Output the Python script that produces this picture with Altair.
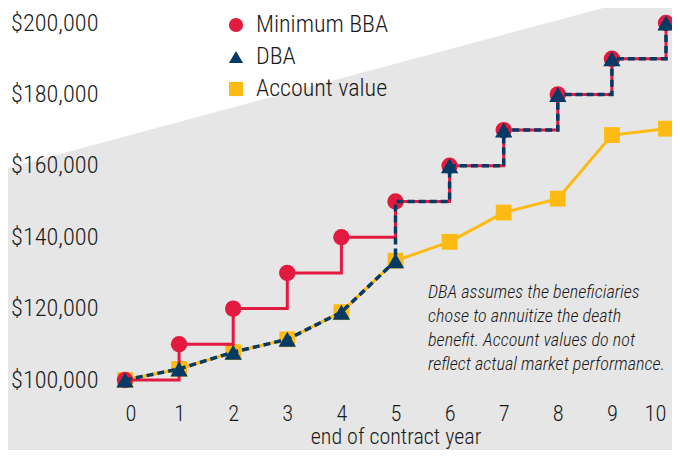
import altair as alt
import pandas as pd

years = [0, 1, 2, 3, 4, 5, 6, 7, 8, 9, 10]
min_bba = [100000, 110000, 120000, 130000, 140000, 150000, 160000, 170000, 180000, 190000, 200000]
account_value = [100000, 103100, 107800, 111400, 119000, 133400, 138700, 146900, 150800, 168600, 170400]
dba = [100000, 103100, 107800, 111400, 119000, 133400, 160000, 170000, 180000, 190000, 200000]
annuitize_year = 5
series_names = ["Minimum BBA", "DBA", "Account value"]
note_lines = ["DBA assumes the beneficiaries", "chose to annuitize the death",
              "benefit. Account values do not", "reflect actual market performance."]

RED = "#e31a3f"
NAVY = "#053a64"
YELLOW = "#fcba12"
BG = "#e6e6e6"
INK = "#1a1a1a"
FONT = "Roboto Condensed, Noto Sans Condensed, Liberation Sans Narrow, Arial Narrow, Liberation Sans"
W = 300

# DBA path: follows account value until annuitization, then the Minimum BBA steps
path_x, path_y = [], []
for i, y in enumerate(years):
    if y <= annuitize_year:
        path_x.append(y); path_y.append(dba[i])
path_x.append(annuitize_year); path_y.append(min_bba[years.index(annuitize_year)])
for i, y in enumerate(years):
    if y > annuitize_year:
        path_x += [y, y]; path_y += [min_bba[i - 1], min_bba[i]]
dba_path = pd.DataFrame({"year": path_x, "value": path_y, "order": range(len(path_x))})

df_bba = pd.DataFrame({"year": years, "value": min_bba, "series": series_names[0]})
df_dba = pd.DataFrame({"year": years, "value": dba, "series": series_names[1]})
df_av = pd.DataFrame({"year": years, "value": account_value, "series": series_names[2]})

xs = alt.Scale(domain=[0, 10], nice=False)
ys = alt.Scale(domain=[100000, 200000], nice=False, zero=False)
X = alt.X("year:Q", scale=xs,
          axis=alt.Axis(values=years, format="d", title="end of contract year", grid=False,
                        domain=False, ticks=False, tickSize=0, labelPadding=22,
                        labelFontSize=22.5, titleFontSize=22, titleFontWeight=W, labelFontWeight=W,
                        titlePadding=2, labelColor=INK, titleColor=INK,
                        labelFont=FONT, titleFont=FONT, zindex=1))
Y = alt.Y("value:Q", scale=ys,
          axis=alt.Axis(values=list(range(100000, 200001, 20000)), format="$,.0f", title=None,
                        grid=False, domain=False, ticks=False, tickSize=0, labelPadding=27,
                        labelFontSize=24.3, labelFontWeight=W, labelColor=INK, labelFont=FONT, zindex=1))

color_scale = alt.Scale(domain=series_names, range=[RED, NAVY, YELLOW])
shape_scale = alt.Scale(domain=series_names, range=["circle", "triangle-up", "square"])
legend = alt.Legend(title=None, orient="none", legendX=99, legendY=-10, padding=0,
                    labelFontSize=24, labelFontWeight=W, labelFont=FONT, labelColor=INK, symbolSize=200,
                    rowPadding=8, labelOffset=8, symbolStrokeWidth=0, symbolOpacity=1)
C = alt.Color("series:N", scale=color_scale, legend=legend)
S = alt.Shape("series:N", scale=shape_scale, legend=legend)

white_tri = alt.Chart(alt.Data(values=[{"a": 1}])).mark_point(
    shape="M -1 -0.2689 L 1 -0.2689 L -1 0.2689 Z", filled=True, color="white",
    opacity=1, size=595 * 595, strokeWidth=0
).encode(x=alt.value(180.5), y=alt.value(65))

av_line = alt.Chart(df_av).mark_line(color=YELLOW, strokeWidth=3).encode(x=X, y=Y)
av_pts = alt.Chart(df_av).mark_point(filled=True, opacity=1, size=250, strokeWidth=0).encode(
    x=X, y=Y, color=C, shape=S)
bba_line = alt.Chart(df_bba).mark_line(color=RED, strokeWidth=3, interpolate="step-after").encode(x=X, y=Y)
bba_pts = alt.Chart(df_bba).mark_point(filled=True, opacity=1, size=270, strokeWidth=0).encode(
    x=X, y=Y, color=C, shape=S)
dba_line = alt.Chart(dba_path).mark_line(color=NAVY, strokeWidth=3.5, strokeDash=[7, 4]).encode(
    x=X, y=Y, order="order:Q")
dba_pts = alt.Chart(df_dba).mark_point(filled=True, opacity=1, size=300, strokeWidth=0).encode(
    x=X, y=Y, color=C, shape=S)

note = alt.Chart(alt.Data(values=[{"t": note_lines}])).mark_text(
    align="left", baseline="alphabetic", fontSize=18.2, fontStyle="italic", fontWeight=W, font=FONT,
    lineHeight=24, color=INK
).encode(text="t:N", x=alt.value(303), y=alt.value(275))

chart = alt.layer(white_tri, av_line, av_pts, bba_line, bba_pts, dba_line, dba_pts, note).properties(
    width=541, height=357,
    autosize=alt.AutoSizeParams(type="none"),
    padding={"left": 117, "top": 15, "right": 6, "bottom": 70},
    background=BG,
).configure_view(stroke=None)

chart.save("out.html", embed_options={"renderer": "svg", "actions": False})
